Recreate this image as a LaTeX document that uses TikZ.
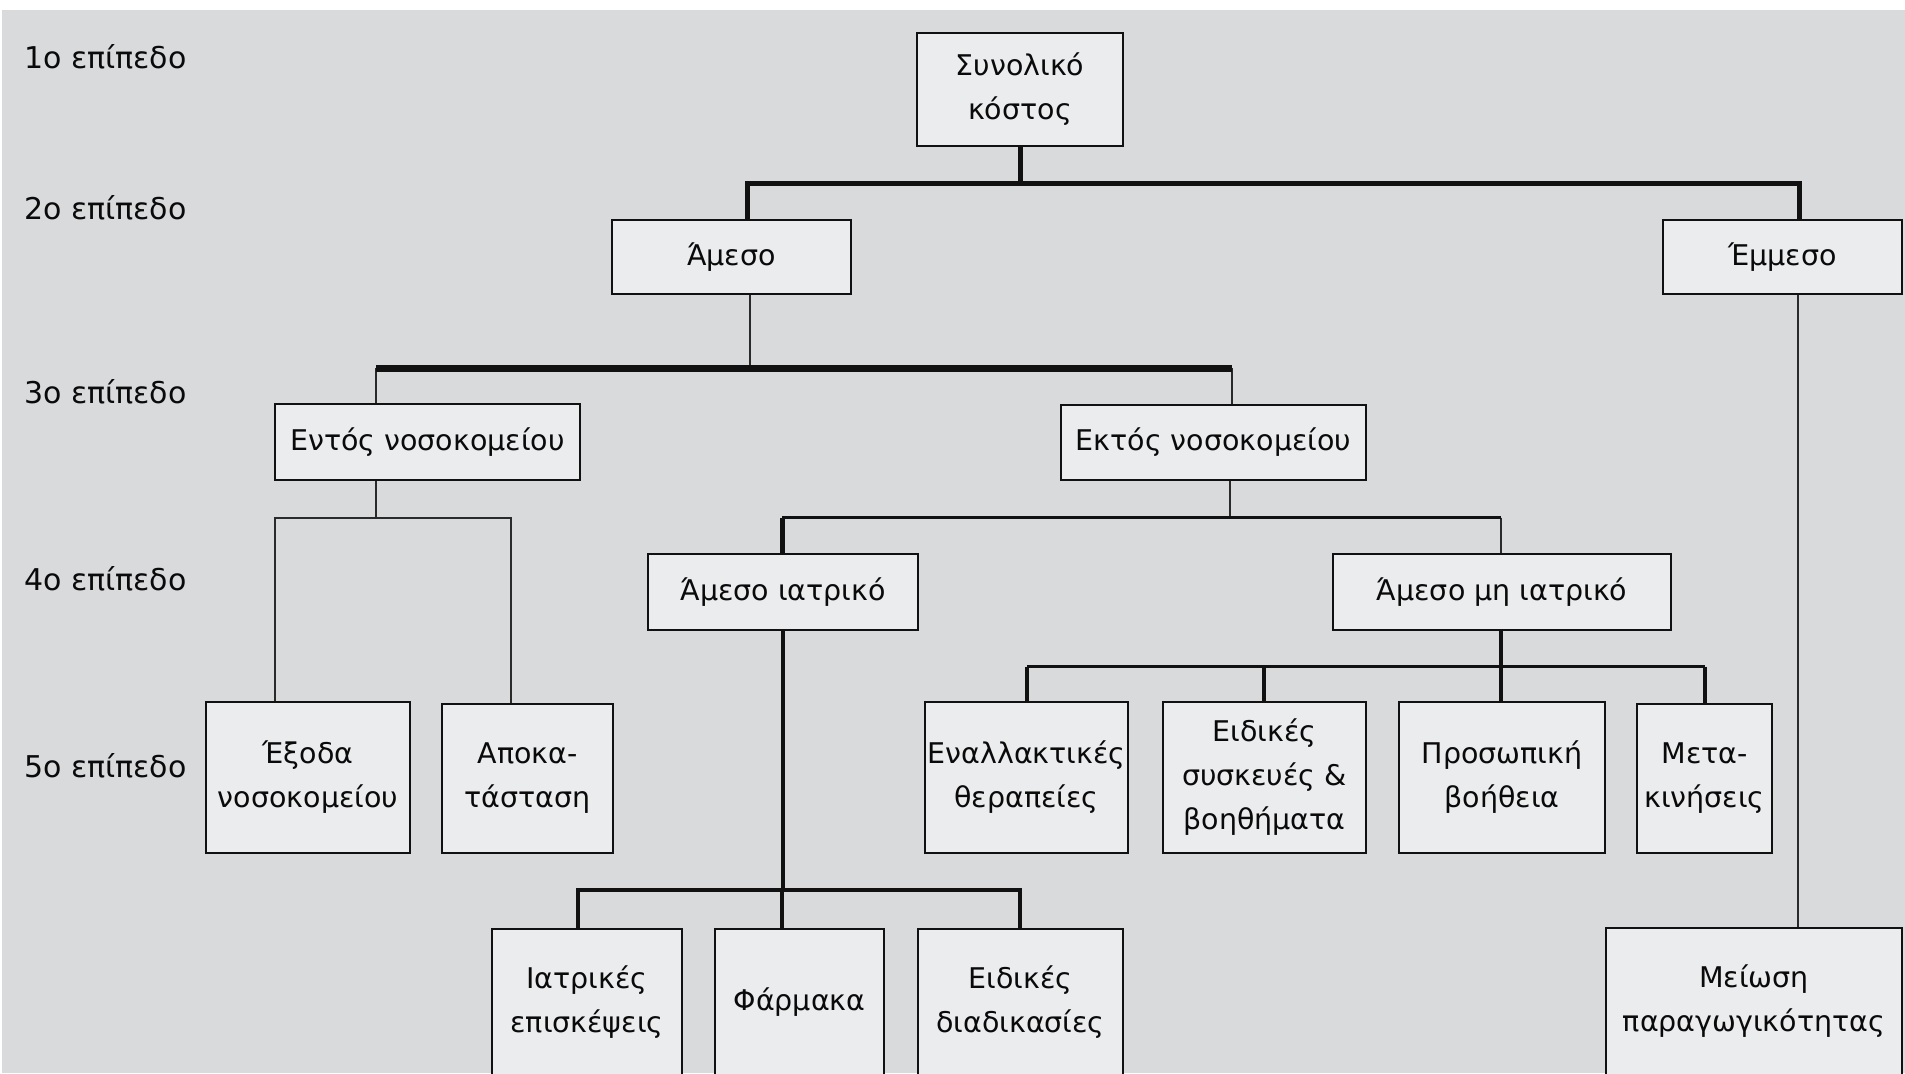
\documentclass[tikz,border=0pt]{standalone}
\usepackage{fontspec}
\setmainfont{DejaVu Sans}
\definecolor{bg}{HTML}{D9DADC}
\definecolor{boxfill}{HTML}{EBECEE}
\definecolor{ln}{HTML}{111111}
\definecolor{lnthin}{HTML}{2A2A2A}
\definecolor{txt}{HTML}{0A0A0A}
\begin{document}
\begin{tikzpicture}[x=1pt,y=-1pt,
  box/.style={draw=ln, line width=2pt, fill=boxfill, inner sep=0pt, align=center, text=txt, font=\fontsize{28.5pt}{44pt}\selectfont},
  lvl/.style={anchor=west, inner sep=0pt, text=txt, font=\fontsize{30pt}{44pt}\selectfont},
  cA/.style={draw=ln, line width=5pt},
  cB/.style={draw=ln, line width=7pt},
  cC/.style={draw=lnthin, line width=2.2pt},
  cD/.style={draw=lnthin, line width=2.7pt},
  cE/.style={draw=ln, line width=3pt},
  cF/.style={draw=ln, line width=4pt}
]
\useasboundingbox (0,0) rectangle (1905,1073);
\clip (0,0) rectangle (1905,1073);
\fill[white] (0,0) rectangle (1905,1073);
\fill[bg] (2,10) rectangle (1905,1073);

% level labels
\node[lvl] (l1) at (24,57) {1ο επίπεδο};
\node[lvl] (l2) at (24,208) {2ο επίπεδο};
\node[lvl] (l3) at (24,392) {3ο επίπεδο};
\node[lvl] (l4) at (24,579) {4ο επίπεδο};
\node[lvl] (l5) at (24,766) {5ο επίπεδο};

% boxes
\node[box, minimum width=206pt, minimum height=113pt] (tot) at (1020,89.5) {Συνολικό\\κόστος};
\node[box, minimum width=239pt, minimum height=74pt] (amesa) at (731.5,257) {Άμεσο};
\node[box, minimum width=239pt, minimum height=74pt] (emmesa) at (1782.5,257) {Έμμεσο};
\node[box, minimum width=305pt, minimum height=76pt] (entos) at (427.5,442) {Εντός νοσοκομείου};
\node[box, minimum width=305pt, minimum height=75pt] (ektos) at (1213.5,442.5) {Εκτός νοσοκομείου};
\node[box, minimum width=270pt, minimum height=76pt] (amiatr) at (783,592) {Άμεσο ιατρικό};
\node[box, minimum width=338pt, minimum height=76pt] (ammi) at (1502,592) {Άμεσο μη ιατρικό};
\node[box, minimum width=204pt, minimum height=151pt] (exoda) at (308,777.5) {Έξοδα\\νοσοκομείου};
\node[box, minimum width=171pt, minimum height=149pt] (apok) at (527.5,778.5) {Αποκα-\\τάσταση};
\node[box, minimum width=203pt, minimum height=151pt] (enal) at (1026.5,777.5) {Εναλλακτικές\\θεραπείες};
\node[box, minimum width=203pt, minimum height=151pt] (eidsk) at (1264.5,777.5) {Ειδικές\\συσκευές \&\\βοηθήματα};
\node[box, minimum width=206pt, minimum height=151pt] (pros) at (1502,777.5) {Προσωπική\\βοήθεια};
\node[box, minimum width=135pt, minimum height=149pt] (meta) at (1704.5,778.5) {Μετα-\\κινήσεις};
\node[box, minimum width=190pt, minimum height=146pt] (iatr) at (587,1002) {Ιατρικές\\επισκέψεις};
\node[box, minimum width=169pt, minimum height=146pt] (farm) at (799.5,1002) {Φάρμακα};
\node[box, minimum width=205pt, minimum height=146pt] (eidd) at (1020.5,1002) {Ειδικές\\διαδικασίες};
\node[box, minimum width=296pt, minimum height=147pt] (meio) at (1754,1001.5) {Μείωση\\παραγωγικότητας};

% level 1 -> 2
\coordinate (b1L) at (747,183);
\coordinate (b1R) at (1799,183);
\draw[cA] (tot.south) -- (tot.south |- b1L);
\draw[cA] (b1L |- amesa.north) -- (b1L) -- (b1R) -- (b1R |- emmesa.north);

% Άμεσο -> level 3
\coordinate (b2L) at (376,368);
\coordinate (b2M) at (750,368);
\coordinate (b2R) at (1232,368);
\draw[cC] (b2M |- amesa.south) -- (b2M);
\draw[cC] (b2L) -- (b2L |- entos.north);
\draw[cC] (b2R) -- (b2R |- ektos.north);
\draw[cB] (b2L) -- (b2R);

% Εντός -> level 5
\coordinate (b3L) at (275,518);
\coordinate (b3M) at (376,518);
\coordinate (b3R) at (511,518);
\draw[cD] (b3M |- entos.south) -- (b3M);
\draw[cD] (b3L |- exoda.north) -- (b3L) -- (b3R) -- (b3R |- apok.north);

% Εκτός -> level 4
\coordinate (b4L) at (782,517.5);
\coordinate (b4M) at (1230,517.5);
\coordinate (b4R) at (1501,517.5);
\draw[cC] (b4M |- ektos.south) -- (b4M);
\draw[cC] (b4R) -- (b4R |- ammi.north);
\draw[cA] (b4L) -- (b4L |- amiatr.north);
\draw[cE] (b4L) -- (b4R);

% Άμεσο ιατρικό -> bottom row
\coordinate (b5L) at (578,890);
\coordinate (b5M) at (782,890);
\coordinate (b5R) at (1020,890);
\draw[cF] (amiatr.south) -- (amiatr.south |- b5M);
\draw[cF] (b5L |- iatr.north) -- (b5L) -- (b5R) -- (b5R |- eidd.north);
\draw[cF] (b5M) -- (b5M |- farm.north);

% Άμεσο μη ιατρικό -> level 5
\coordinate (b6L) at (1027,666.5);
\coordinate (b6S) at (1264,666.5);
\coordinate (b6M) at (1501,666.5);
\coordinate (b6R) at (1705,666.5);
\draw[cF] (b6M |- ammi.south) -- (b6M |- pros.north);
\draw[cE] (b6L) -- (b6R);
\draw[cF] (b6L) -- (b6L |- enal.north);
\draw[cF] (b6S) -- (b6S |- eidsk.north);
\draw[cF] (b6R) -- (b6R |- meta.north);

% Έμμεσο -> Μείωση
\coordinate (b7) at (1798,600);
\draw[cD] (b7 |- emmesa.south) -- (b7 |- meio.north);
\end{tikzpicture}
\end{document}
